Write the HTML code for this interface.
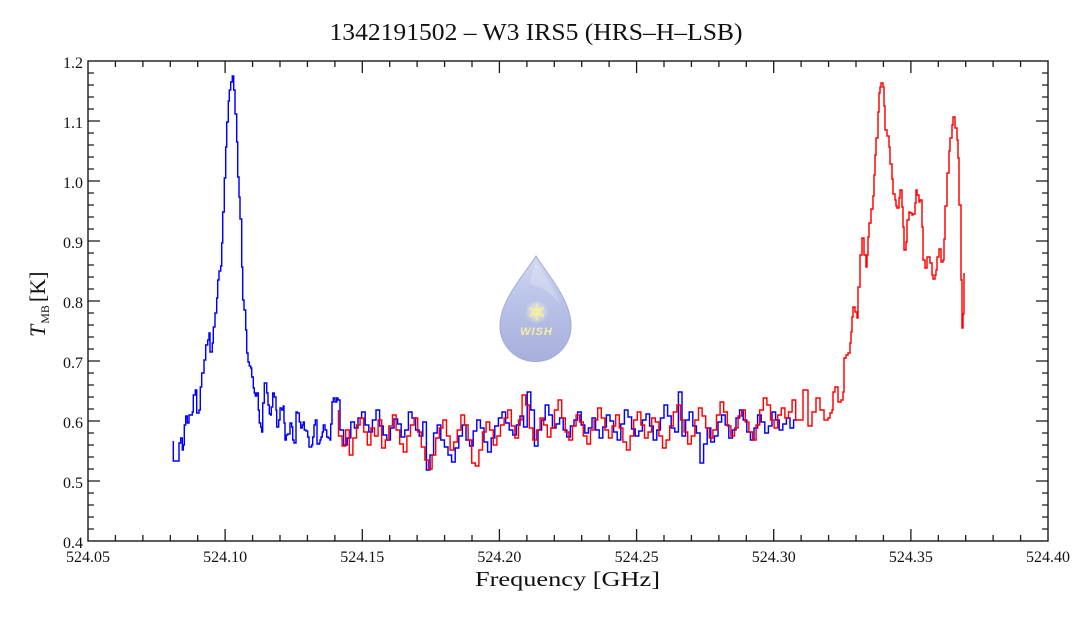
<!DOCTYPE html>
<html><head><meta charset="utf-8"><style>
html,body{margin:0;padding:0;background:#fff;}
svg{display:block;}
.t{font-family:"Liberation Serif",serif;fill:#111;}
</style></head><body>
<svg width="1072" height="618" viewBox="0 0 1072 618" xmlns="http://www.w3.org/2000/svg">
<defs>
<linearGradient id="dg" x1="0" y1="0" x2="0" y2="1">
<stop offset="0" stop-color="#d2d8f0"/>
<stop offset="0.45" stop-color="#b9c2e8"/>
<stop offset="1" stop-color="#a7afdb"/>
</linearGradient>
<radialGradient id="glow" cx="0.5" cy="0.5" r="0.5">
<stop offset="0" stop-color="#fffbd0" stop-opacity="0.9"/>
<stop offset="1" stop-color="#fffbd0" stop-opacity="0"/>
</radialGradient>
</defs>
<rect width="1072" height="618" fill="#fff"/>

<text class="t" x="536" y="40" font-size="24" text-anchor="middle" textLength="413" lengthAdjust="spacingAndGlyphs">1342191502 – W3 IRS5 (HRS–H–LSB)</text>

<!-- watermark -->
<g>
<path d="M536 256 C548 275 571 300 571 326 A35.5 35.5 0 0 1 500 326 C500 300 524 275 536 256 Z" fill="url(#dg)" stroke="#a3acd6" stroke-width="1"/>
<path d="M536 262 C544 276 556 290 560 304 C550 292 540 286 530 284 C531 276 533 268 536 262 Z" fill="#ffffff" opacity="0.2"/>
<circle cx="536.5" cy="312" r="12" fill="url(#glow)"/>
<g stroke="#f6f08a" stroke-width="1.6" stroke-linecap="round">
<line x1="536.5" y1="304" x2="536.5" y2="320"/>
<line x1="529.6" y1="308" x2="543.4" y2="316"/>
<line x1="529.6" y1="316" x2="543.4" y2="308"/>
</g>
<text x="536.5" y="335" text-anchor="middle" letter-spacing="1" style="font-family:'Liberation Sans',sans-serif;font-size:11px;font-weight:bold;font-style:italic;fill:#f4f0a0">WISH</text>
</g>

<!-- spectra -->
<path fill="none" stroke="#0000ff" stroke-width="1.45" d="M173.3 441 V461 H179 V443 H180.7 V438 H182.3 V450 H183.3 V445 H184.3 V425 H185.7 V416 H187.3 V423 H189 V415 H192.3 V412 H193.3 V395 H195.3 V390 H196.7 V413 H199 V410 H200.3 V387 H201.7 V373 H204 V360 H205.7 V345 H207.7 V340 H209 V333 H210 V352 H212.3 V343 H213.3 V327 H215 V313 H216.7 V298 H217.7 V280 H219 V271 H220.7 V266 H221.7 V243 H222.7 V212 H224.3 V178 H225.7 V147 H226.7 V122 H228.3 V101 H229.3 V90 H230.7 V82 H232.3 V76 H233.7 V90 H235 V114 H236.7 V142 H237.7 V177 H239 V197 H240 V219 H241.7 V267 H242.7 V300 H244 V310 H245.7 V330 H246.7 V353 H248 V362 H249.3 V366 H250.7 V368 H251.7 V377 H253.3 V388 H254.3 V393 H255.3 V396 H256.7 V393 H258.3 V410 H259.3 V423 H260.7 V427 H261.7 V432 H262.7 V403 H264.3 V383 H266.7 V393 H268 V405 H269.3 V414 H270.7 V415 H271.3 V407 H272.7 V393 H274.3 V397 H276 V410 H276.7 V427 H278.7 V420 H280 V408 H281.7 V410 H283.3 V406 H284 V423 H285 V440 H286.3 V435 H287.7 V434 H290 V423 H291.7 V427 H292.7 V440 H294 V443 H296 V412 H297.3 V413 H299.3 V422 H300.7 V428 H302.3 V425 H303.3 V422 H304.3 V430 H306 V431 H307.7 V437 H309 V447 H311.7 V445 H312.7 V437 H314 V425 H315.3 V420 H317 V444 H319.3 V443 H320 V440 H321 V437 H322.3 V432 H323.3 V425 H325 V430 H326.7 V437 H328.3 V438 H330 V440 H330.7 V424 H332 V402 H333.3 V398 H335 V402 H336.7 V398 H338 V400 H340
V430 h3.6 V445 h3.6 V438 h3.6 V422 h3.6 V428 h3.6 V418 h3.6 V412 h3.6 V425 h3.6 V432 h3.6 V420 h3.6
V410 h3.6 V426 h3.6 V435 h3.6 V440 h3.6 V428 h3.6 V419 h3.6 V424 h3.6 V437 h3.6 V430 h3.6 V412 h3.6
V418 h3.6 V430 h3.6 V436 h3.6 V422 h3.6 V470 h3.6 V455 h3.6 V433 h3.6 V425 h3.6 V440 h3.6 V447 h3.6
V455 h3.6 V462 h3.6 V448 h3.6 V436 h3.6 V425 h3.6 V440 h3.6 V446 h3.6 V431 h3.6 V420 h3.6 V428 h3.6
V442 h3.6 V452 h3.6 V438 h3.6 V426 h3.6 V418 h3.6 V412 h3.6 V423 h3.6 V430 h3.6 V435 h3.6 V425 h3.6
V416 h3.6 V427 h3.6 V392 h3.6 V410 h3.6 V446 h3.6 V430 h3.6 V420 h3.6 V405 h3.6 V415 h3.6 V428 h3.6
V424 h3.6 V418 h3.6 V430 h3.6 V437 h3.6 V426 h3.6 V420 h3.6 V412 h3.6 V425 h3.6 V433 h3.6 V428 h3.6
V418 h3.6 V430 h3.6 V438 h3.6 V427 h3.6 V415 h3.6 V421 h3.6 V432 h3.6 V440 h3.6 V424 h3.6 V410 h3.6
V417 h3.6 V429 h3.6 V436 h3.6 V431 h3.6 V420 h3.6 V414 h3.6 V426 h3.6 V440 h3.6 V430 h3.6 V418 h3.6
V405 h3.6 V416 h3.6 V428 h3.6 V432 h3.6 V392 h3.6 V436 h3.6 V420 h3.6 V412 h3.6 V426 h3.6 V433 h3.6
V463 h3.6 V444 h3.6 V428 h3.6 V442 h3.6 V436 h3.6 V422 h3.6 V415 h3.6 V425 h3.6 V438 h3.6 V430 h3.6
V418 h3.6 V410 h3.6 V420 h3.6 V432 h3.6 V440 h3.6 V428 h3.6 V415 h3.6 V422 h3.6 V433 h3.6 V426 h3.6
V412 h3.6 V420 h3.6 V430 h3.6 V424 h3.6 V418 h3.6 V428 h3.6 V420 h3.6"/>

<path fill="none" stroke="#ff0000" stroke-width="1.45" d="M338.5 410
V436 h3.6 V446 h3.6 V430 h3.6 V455 h3.6 V438 h3.6 V425 h3.6 V418 h3.6 V432 h3.6 V445 h3.6 V428 h3.6
V436 h3.6 V420 h3.6 V448 h3.6 V440 h3.6 V426 h3.6 V415 h3.6 V430 h3.6 V444 h3.6 V452 h3.6 V436 h3.6
V425 h3.6 V418 h3.6 V432 h3.6 V447 h3.6 V460 h3.6 V469 h3.6 V455 h3.6 V438 h3.6 V428 h3.6 V420 h3.6
V436 h3.6 V450 h3.6 V442 h3.6 V430 h3.6 V415 h3.6 V425 h3.6 V440 h3.6 V463 h3.6 V466 h3.6 V450 h3.6
V432 h3.6 V422 h3.6 V430 h3.6 V445 h3.6 V436 h3.6 V425 h3.6 V418 h3.6 V410 h3.6 V426 h3.6 V438 h3.6
V420 h3.6 V395 h3.6 V405 h3.6 V428 h3.6 V440 h3.6 V430 h3.6 V418 h3.6 V425 h3.6 V437 h3.6 V428 h3.6
V410 h3.6 V400 h3.6 V418 h3.6 V432 h3.6 V440 h3.6 V426 h3.6 V415 h3.6 V422 h3.6 V436 h3.6 V444 h3.6
V430 h3.6 V420 h3.6 V408 h3.6 V418 h3.6 V430 h3.6 V438 h3.6 V426 h3.6 V415 h3.6 V428 h3.6 V442 h3.6
V450 h3.6 V436 h3.6 V420 h3.6 V412 h3.6 V425 h3.6 V438 h3.6 V432 h3.6 V418 h3.6 V422 h3.6 V436 h3.6
V448 h3.6 V440 h3.6 V426 h3.6 V412 h3.6 V405 h3.6 V420 h3.6 V432 h3.6 V444 h3.6 V436 h3.6 V420 h3.6
V408 h3.6 V416 h3.6 V428 h3.6 V438 h3.6 V430 h3.6 V415 h3.6 V402 h3.6 V412 h3.6 V426 h3.6 V436 h3.6
V428 h3.6 V416 h3.6 V410 h3.6 V422 h3.6 V432 h3.6 V440 h3.6 V425 h3.6 V410 h3.6 V398 h3.6 V405 h3.6
V420 h3.6 V428 h3.6 V415 h3.6 V408 h3.6 V418 h3.6 V412 h3.6 V400 h3.6 V420
H803 V390 H808 V426 H812 V412 H816 V398 H820 V410 H824 V420 H828 V418 H830 V413 H832 V410 H833 V392 H835 V387 H838 V402 H841 V400 H843 V392 H844 V358 H846 V355 H848 V353 H850 V343 H851 V332 H852 V317 H853 V307 H855 V312 H857 V318 H858 V287 H860 V255 H862 V238 H864 V255 H866 V267 H867 V255 H868 V237 H869 V223 H871 V209 H873 V196 H874 V175 H875 V155 H876 V138 H878 V112 H879 V93 H880 V87 H881 V83 H883 V87 H884 V106 H885 V130 H887 V136 H889 V147 H890 V164 H892 V179 H893 V194 H895 V200 H896 V206 H897 V208 H899 V198 H900 V190 H902 V207 H903 V227 H904 V250 H906 V242 H907 V220 H909 V212 H910 V213 H912 V215 H913 V214 H915 V203 H916 V190 H917 V195 H919 V202 H920 V200 H922 V227 H923 V260 H925 V268 H927 V257 H928 V257 H930 V263 H932 V275 H933 V279 H935 V275 H936 V270 H937 V257 H939 V249 H941 V262 H943 V260 H944 V239 H945 V206 H947 V173 H949 V151 H950 V138 H952 V125 H953 V117 H955 V128 H957 V140 H958 V158 H959 V205 H961 V280 H962 V328 H963 V314 H964 V273"/>

<!-- axes frame -->
<rect x="88" y="61" width="960" height="480" fill="none" stroke="#1a1a1a" stroke-width="1.4"/>

<!-- x ticks -->
<g stroke="#1a1a1a" stroke-width="1.3">
<path d="M225.1 541 v-12 M362.3 541 v-12 M499.4 541 v-12 M636.6 541 v-12 M773.7 541 v-12 M910.9 541 v-12
M225.1 61 v12 M362.3 61 v12 M499.4 61 v12 M636.6 61 v12 M773.7 61 v12 M910.9 61 v12"/>
<path d="M115.4 541 v-6 M142.9 541 v-6 M170.3 541 v-6 M197.7 541 v-6 M252.6 541 v-6 M280 541 v-6 M307.4 541 v-6 M334.9 541 v-6 M389.7 541 v-6 M417.1 541 v-6 M444.6 541 v-6 M472 541 v-6 M526.9 541 v-6 M554.3 541 v-6 M581.7 541 v-6 M609.1 541 v-6 M664 541 v-6 M691.4 541 v-6 M718.9 541 v-6 M746.3 541 v-6 M801.1 541 v-6 M828.6 541 v-6 M856 541 v-6 M883.4 541 v-6 M938.3 541 v-6 M965.7 541 v-6 M993.1 541 v-6 M1020.6 541 v-6
M115.4 61 v6 M142.9 61 v6 M170.3 61 v6 M197.7 61 v6 M252.6 61 v6 M280 61 v6 M307.4 61 v6 M334.9 61 v6 M389.7 61 v6 M417.1 61 v6 M444.6 61 v6 M472 61 v6 M526.9 61 v6 M554.3 61 v6 M581.7 61 v6 M609.1 61 v6 M664 61 v6 M691.4 61 v6 M718.9 61 v6 M746.3 61 v6 M801.1 61 v6 M828.6 61 v6 M856 61 v6 M883.4 61 v6 M938.3 61 v6 M965.7 61 v6 M993.1 61 v6 M1020.6 61 v6"/>
<!-- y ticks -->
<path d="M88 481 h12 M88 421 h12 M88 361 h12 M88 301 h12 M88 241 h12 M88 181 h12 M88 121 h12
M1048 481 h-12 M1048 421 h-12 M1048 361 h-12 M1048 301 h-12 M1048 241 h-12 M1048 181 h-12 M1048 121 h-12"/>
<path d="M88 529 h6 M88 517 h6 M88 505 h6 M88 493 h6 M88 469 h6 M88 457 h6 M88 445 h6 M88 433 h6 M88 409 h6 M88 397 h6 M88 385 h6 M88 373 h6 M88 349 h6 M88 337 h6 M88 325 h6 M88 313 h6 M88 289 h6 M88 277 h6 M88 265 h6 M88 253 h6 M88 229 h6 M88 217 h6 M88 205 h6 M88 193 h6 M88 169 h6 M88 157 h6 M88 145 h6 M88 133 h6 M88 109 h6 M88 97 h6 M88 85 h6 M88 73 h6
M1048 529 h-6 M1048 517 h-6 M1048 505 h-6 M1048 493 h-6 M1048 469 h-6 M1048 457 h-6 M1048 445 h-6 M1048 433 h-6 M1048 409 h-6 M1048 397 h-6 M1048 385 h-6 M1048 373 h-6 M1048 349 h-6 M1048 337 h-6 M1048 325 h-6 M1048 313 h-6 M1048 289 h-6 M1048 277 h-6 M1048 265 h-6 M1048 253 h-6 M1048 229 h-6 M1048 217 h-6 M1048 205 h-6 M1048 193 h-6 M1048 169 h-6 M1048 157 h-6 M1048 145 h-6 M1048 133 h-6 M1048 109 h-6 M1048 97 h-6 M1048 85 h-6 M1048 73 h-6"/>
</g>

<!-- y tick labels -->
<g class="t" font-size="16" text-anchor="end">
<text class="t" x="83" y="548">0.4</text>
<text class="t" x="83" y="488">0.5</text>
<text class="t" x="83" y="428">0.6</text>
<text class="t" x="83" y="368">0.7</text>
<text class="t" x="83" y="308">0.8</text>
<text class="t" x="83" y="248">0.9</text>
<text class="t" x="83" y="188">1.0</text>
<text class="t" x="83" y="128">1.1</text>
<text class="t" x="83" y="68">1.2</text>
</g>
<!-- x tick labels -->
<g font-size="16" text-anchor="middle">
<text class="t" x="88" y="562">524.05</text>
<text class="t" x="225.1" y="562">524.10</text>
<text class="t" x="362.3" y="562">524.15</text>
<text class="t" x="499.4" y="562">524.20</text>
<text class="t" x="636.6" y="562">524.25</text>
<text class="t" x="773.7" y="562">524.30</text>
<text class="t" x="910.9" y="562">524.35</text>
<text class="t" x="1048" y="562">524.40</text>
</g>

<text class="t" x="567.5" y="586" font-size="21" text-anchor="middle" textLength="185" lengthAdjust="spacingAndGlyphs">Frequency [GHz]</text>

<text class="t" transform="translate(45,337) rotate(-90)" font-size="22"><tspan font-style="italic">T</tspan><tspan font-size="12" dy="4" dx="1">MB</tspan><tspan dy="-4" dx="3">[K]</tspan></text>
</svg>
</body></html>
